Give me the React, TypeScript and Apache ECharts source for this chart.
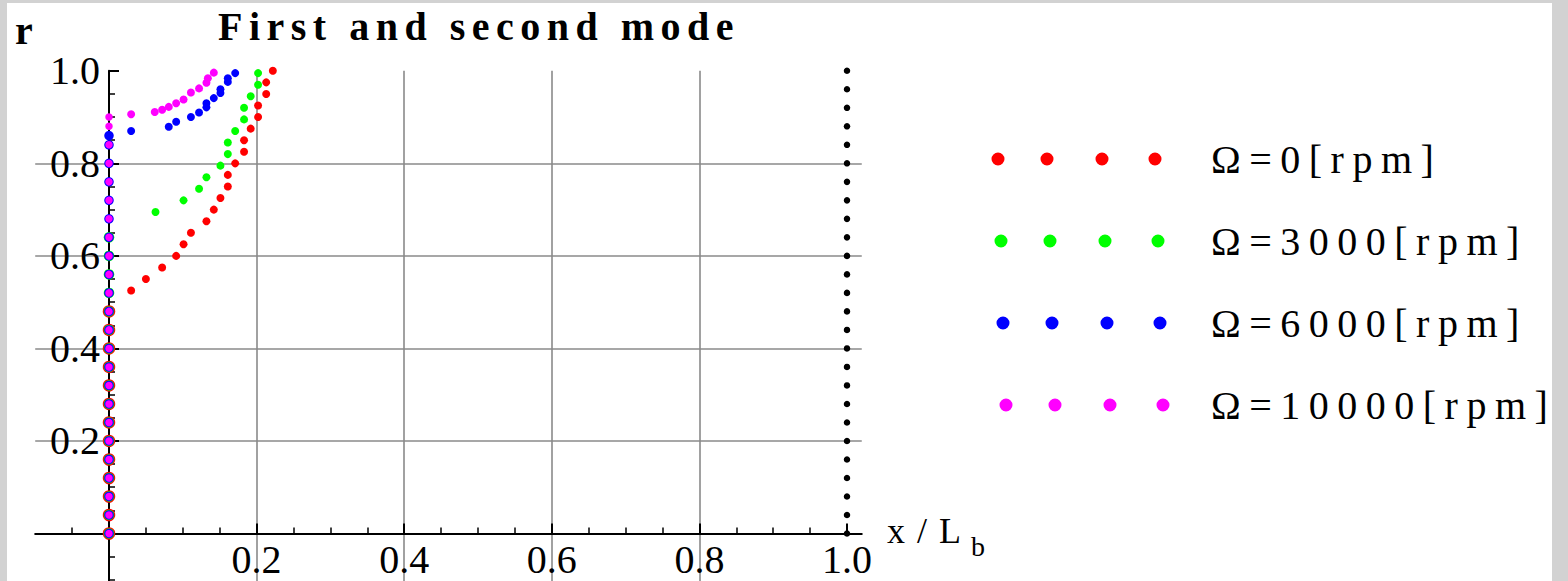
import React, { useEffect, useRef } from "react";
import * as echarts from "echarts";

// ---- data (x / L_b, r) ----
const seriesNames = ["Ω=0[rpm]", "Ω=3000[rpm]", "Ω=6000[rpm]", "Ω=10000[rpm]"];
const seriesColors = ["#ff0000", "#00ff00", "#0000ff", "#ff00ff"];

// points lying on x = 0
const redColumnR = [0, 0.04, 0.08, 0.12, 0.16, 0.2, 0.24, 0.28, 0.32, 0.36, 0.4, 0.44, 0.48];
const greenColumnR = [0, 0.04, 0.08, 0.12, 0.16, 0.2, 0.24, 0.28, 0.32, 0.36, 0.4, 0.44, 0.48, 0.52, 0.56, 0.6, 0.64];
const blueColumnR = [0, 0.04, 0.08, 0.12, 0.16, 0.2, 0.24, 0.28, 0.32, 0.36, 0.4, 0.44, 0.48, 0.52, 0.56, 0.6, 0.64, 0.68, 0.72, 0.76, 0.8, 0.84, 0.86];
const magentaColumnR = [0, 0.04, 0.08, 0.12, 0.16, 0.2, 0.24, 0.28, 0.32, 0.36, 0.4, 0.44, 0.48, 0.52, 0.56, 0.6, 0.64, 0.68, 0.72, 0.76, 0.8, 0.84, 0.88, 0.9];

// curved branches
const redCurveX = [0.03, 0.05, 0.072, 0.091, 0.101, 0.111, 0.132, 0.142, 0.151, 0.161, 0.161, 0.171, 0.183, 0.183, 0.192, 0.202, 0.202, 0.213, 0.213, 0.222];
const redCurveR = [0.525, 0.55, 0.575, 0.6, 0.625, 0.65, 0.675, 0.7, 0.725, 0.75, 0.775, 0.8, 0.825, 0.85, 0.875, 0.9, 0.925, 0.95, 0.975, 1.0];
const greenCurveX = [0.063, 0.101, 0.122, 0.132, 0.151, 0.161, 0.161, 0.171, 0.183, 0.183, 0.192, 0.202, 0.202];
const greenCurveR = [0.695, 0.72, 0.745, 0.77, 0.795, 0.82, 0.845, 0.87, 0.895, 0.92, 0.945, 0.97, 0.995];
const blueCurveX = [0.03, 0.081, 0.091, 0.111, 0.122, 0.132, 0.132, 0.142, 0.151, 0.151, 0.161, 0.161, 0.171];
const blueCurveR = [0.87, 0.879, 0.89, 0.9, 0.91, 0.921, 0.93, 0.941, 0.952, 0.96, 0.976, 0.984, 0.995];
const magentaCurveX = [0.03, 0.062, 0.072, 0.081, 0.091, 0.101, 0.111, 0.122, 0.132, 0.134, 0.142];
const magentaCurveR = [0.906, 0.911, 0.916, 0.922, 0.93, 0.938, 0.953, 0.962, 0.974, 0.984, 0.996];

// black points on x = 1
const blackX = 1.0;
const blackR = [0, 0.04, 0.08, 0.12, 0.16, 0.2, 0.24, 0.28, 0.32, 0.36, 0.4, 0.44, 0.48, 0.52, 0.56, 0.6, 0.64, 0.68, 0.72, 0.76, 0.8, 0.84, 0.88, 0.92, 0.96, 1.0];

const xTickValues = [0, 0.2, 0.4, 0.6, 0.8, 1.0];
const xLabelValues = [0.2, 0.4, 0.6, 0.8, 1.0];
const yTickValues = [0, 0.2, 0.4, 0.6, 0.8, 1.0];
const yLabelValues = [0.2, 0.4, 0.6, 0.8, 1.0];

const TITLE = "First and second mode";

const FONT = '"Liberation Serif", "Times New Roman", serif';

function build(column: number[], cx: number[], cr: number[]) {
  return [...column.map((r) => [0, r]), ...cx.map((x, i) => [x, cr[i]])];
}

function legendIcon(shift: number) {
  const centers = [7, 56, 111, 164].map((c) => c + shift);
  const r = 6.5;
  let d = "M0,0L0.01,0.01M215,13L214.99,12.99";
  centers.forEach((c) => {
    d += `M${c - r},6.5a${r},${r} 0 1,0 ${2 * r},0a${r},${r} 0 1,0 ${-2 * r},0Z`;
  });
  return "path://" + d;
}

export default function App() {
  const ref = useRef<HTMLDivElement>(null);

  useEffect(() => {
    const el = ref.current!;
    const chart = echarts.init(el, null, { renderer: "svg" });

    const gridLine = { color: "#8a8a8a", width: 1.6 };
    const axisLineStyle = { color: "#000", width: 2 };
    const label = { fontSize: 40, fontFamily: FONT, color: "#000" };

    const datasets = [
      build(redColumnR, redCurveX, redCurveR),
      build(greenColumnR, greenCurveX, greenCurveR),
      build(blueColumnR, blueCurveX, blueCurveR),
      build(magentaColumnR, magentaCurveX, magentaCurveR),
    ];
    const columnSizes = [12.5, 10.5, 9.5, 7.5];

    const series: any[] = datasets.map((data, i) => ({
      type: "scatter",
      name: seriesNames[i],
      data,
      symbol: "circle",
      symbolSize: (v: number[]) => (v[0] === 0 ? columnSizes[i] : 8),
      itemStyle: { color: seriesColors[i], opacity: 1 },
      silent: true,
      clip: false,
      z: 3 + i,
    }));
    series.push({
      type: "scatter",
      name: "boundary",
      data: blackR.map((r) => [blackX, r]),
      symbol: "circle",
      symbolSize: 6.5,
      itemStyle: { color: "#000", opacity: 1 },
      silent: true,
      clip: false,
      z: 8,
    });

    const x0 = 109;
    const xs = 738;
    const y1 = 70.8;
    const ys = 462.7;
    const xMin = -0.1;
    const xMax = 1.02;
    const yMin = -0.11;
    const yMax = 1.0;
    const gridLeft = x0 + xMin * xs;
    const gridHeight = (yMax - yMin) * ys;
    // shift the axes from the grid edges onto the origin
    const yAxisOffset = -(x0 - gridLeft);
    const xAxisOffset = -(y1 + gridHeight - (y1 + yMax * ys));

    chart.setOption({
      animation: false,
      grid: {
        left: gridLeft,
        top: y1,
        width: (xMax - xMin) * xs,
        height: gridHeight,
        containLabel: false,
        outerBoundsMode: "none",
      },
      xAxis: {
        type: "value",
        min: xMin,
        max: xMax,
        splitNumber: 5,
        position: "bottom",
        offset: xAxisOffset,
        axisLine: { show: true, onZero: false, lineStyle: axisLineStyle },
        axisTick: { show: true, inside: true, length: 10, customValues: xTickValues, lineStyle: { color: "#000", width: 2 } },
        minorTick: { show: true, splitNumber: 4, length: 6, lineStyle: { color: "#000", width: 1.5 } },
        axisLabel: { ...label, customValues: xLabelValues, margin: 6, formatter: (v: number) => v.toFixed(1) },
        splitLine: { show: true, lineStyle: gridLine, showMinLine: false, showMaxLine: false },
      },
      yAxis: {
        type: "value",
        min: yMin,
        max: yMax,
        splitNumber: 5,
        position: "left",
        offset: yAxisOffset,
        axisLine: { show: true, onZero: false, lineStyle: axisLineStyle },
        axisTick: { show: true, inside: true, length: 10, customValues: yTickValues, lineStyle: { color: "#000", width: 2 } },
        minorTick: { show: true, splitNumber: 4, length: 6, lineStyle: { color: "#000", width: 1.5 } },
        axisLabel: {
          ...label,
          customValues: yLabelValues,
          margin: 9,
          padding: [0, 0, 5, 0],
          formatter: (v: number) => v.toFixed(1),
        },
        splitLine: { show: true, lineStyle: gridLine, showMinLine: false, showMaxLine: false },
      },
      legend: {
        orient: "vertical",
        left: 986,
        top: 134,
        itemWidth: 215,
        itemHeight: 13,
        itemGap: 42,
        selectedMode: false,
        textStyle: { fontSize: 40, fontFamily: FONT, color: "#000" },
        data: seriesNames.map((n, i) => ({ name: n, icon: legendIcon([0, 3, 5, 8][i]) })),
      },
      graphic: [
        {
          type: "text",
          x: 218,
          y: 26.5,
          style: { text: TITLE, font: `bold 40px ${FONT}`, fill: "#000", align: "left", verticalAlign: "middle" },
        },
        {
          type: "text",
          x: 15,
          y: 30,
          style: { text: "r", font: `bold 40px ${FONT}`, fill: "#000", align: "left", verticalAlign: "middle" },
        },
        {
          type: "text",
          x: 887,
          y: 531,
          style: { text: "x/L", font: `36px ${FONT}`, fill: "#000", align: "left", verticalAlign: "middle" },
        },
        {
          type: "text",
          x: 971,
          y: 546,
          style: { text: "b", font: `28px ${FONT}`, fill: "#000", align: "left", verticalAlign: "middle" },
        },
      ],
      series,
    });

    const applySpacing = () => {
      el.querySelectorAll("text").forEach((t) => {
        const s = t.textContent || "";
        const st = (t as SVGTextElement).style;
        if (s === TITLE) st.letterSpacing = "6.5px";
        else if (s.startsWith("Ω")) st.letterSpacing = "8.5px";
        else if (s === "x/L") st.letterSpacing = "12px";
      });
    };
    applySpacing();
    chart.on("finished", applySpacing);

    return () => {
      chart.dispose();
    };
  }, []);

  return (
    <div
      ref={ref}
      style={{
        position: "absolute",
        left: 0,
        top: 0,
        width: 1568,
        height: 581,
        background: "#ffffff",
        boxShadow: "inset 7px 3px 0 0 #d2d2d2, inset -16px 0 0 0 #d2d2d2",
      }}
    />
  );
}
